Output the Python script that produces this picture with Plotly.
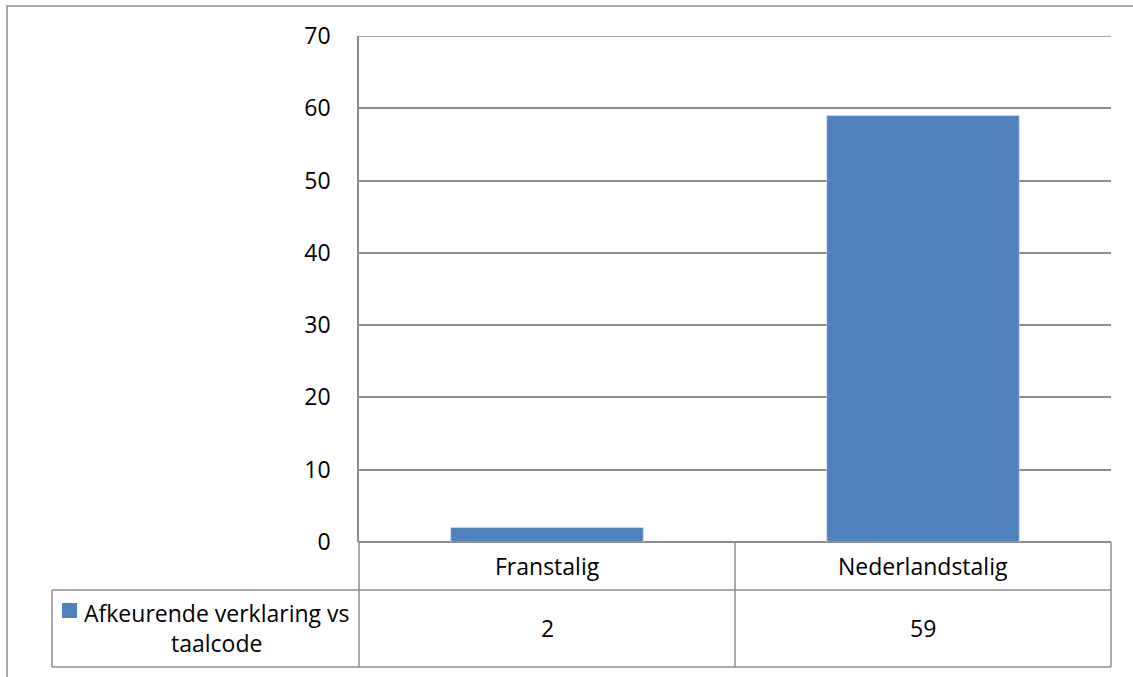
import plotly.graph_objects as go

# Chart data
categories = ["Franstalig", "Nederlandstalig"]
values = [2, 59]
series_name = "Afkeurende verklaring vs taalcode"
y_ticks = [0, 10, 20, 30, 40, 50, 60, 70]

W, H = 1133, 677
L, R, T, B = 359, 22, 36, 135          # plot area margins (px)
PW, PH = W - L - R, H - T - B

BAR = "#4F81BD"
GRID = "#8c8c8c"
FONT = "Open Sans"
FS = 23


def px(xp):
    """pixel x -> paper x"""
    return (xp - L) / PW


def py(yp):
    """pixel y -> paper y"""
    return (H - B - yp) / PH


fig = go.Figure()
fig.add_trace(go.Bar(x=categories, y=values, marker_color=BAR, width=0.512,
                     name=series_name, showlegend=False))

shapes = []


def hline(y, x0, x1):
    shapes.append(dict(type="line", xref="paper", yref="paper",
                       x0=px(x0), x1=px(x1), y0=py(y), y1=py(y),
                       line=dict(color=GRID, width=1.5)))


def vline(x, y0, y1):
    shapes.append(dict(type="line", xref="paper", yref="paper",
                       x0=px(x), x1=px(x), y0=py(y0), y1=py(y1),
                       line=dict(color=GRID, width=1.5)))


# outer chart frame
shapes.append(dict(type="rect", xref="paper", yref="paper",
                   x0=px(7), x1=px(1145), y0=py(6), y1=py(690),
                   line=dict(color=GRID, width=1.5), layer="below"))

# gridline at the top of the value range
shapes.append(dict(type="line", xref="paper", yref="y",
                   x0=0, x1=1, y0=y_ticks[-1], y1=y_ticks[-1],
                   line=dict(color=GRID, width=1.5)))

# data table grid
hline(590, 52, 1111)
hline(667, 52, 1111)
vline(359, 542, 667)
vline(735, 542, 667)
vline(1111, 542, 667)
vline(52, 590, 667)

# legend key
shapes.append(dict(type="rect", xref="paper", yref="paper",
                   x0=px(62), x1=px(77), y0=py(603), y1=py(618),
                   fillcolor=BAR, line=dict(width=0)))

annotations = []
for c, v in zip(categories, values):
    annotations.append(dict(x=c, xref="x", y=py(566), yref="paper",
                            text=c, showarrow=False,
                            font=dict(family=FONT, size=FS, color="black"),
                            xanchor="center", yanchor="middle"))
    annotations.append(dict(x=c, xref="x", y=py(628), yref="paper",
                            text=str(v), showarrow=False,
                            font=dict(family=FONT, size=FS, color="black"),
                            xanchor="center", yanchor="middle"))

annotations.append(dict(x=px(216), y=py(628), xref="paper", yref="paper",
                        text="Afkeurende verklaring vs<br>taalcode",
                        showarrow=False, align="center",
                        font=dict(family=FONT, size=FS, color="black"),
                        xanchor="center", yanchor="middle"))

fig.update_layout(
    width=W, height=H,
    margin=dict(l=L, r=R, t=T, b=B, pad=0),
    paper_bgcolor="white", plot_bgcolor="white",
    bargap=0.488,
    shapes=shapes, annotations=annotations,
    xaxis=dict(showticklabels=False, showgrid=False, ticks="",
               showline=False, zeroline=False),
    yaxis=dict(range=[0, 70], tickvals=y_ticks, showgrid=True,
               gridcolor=GRID, gridwidth=1.5, zeroline=True,
               zerolinecolor=GRID, zerolinewidth=1.5,
               showline=True, linecolor=GRID, linewidth=1.5,
               ticks="", ticklabelstandoff=22,
               tickfont=dict(family=FONT, size=FS, color="black")),
)

fig.write_html("out.html")
